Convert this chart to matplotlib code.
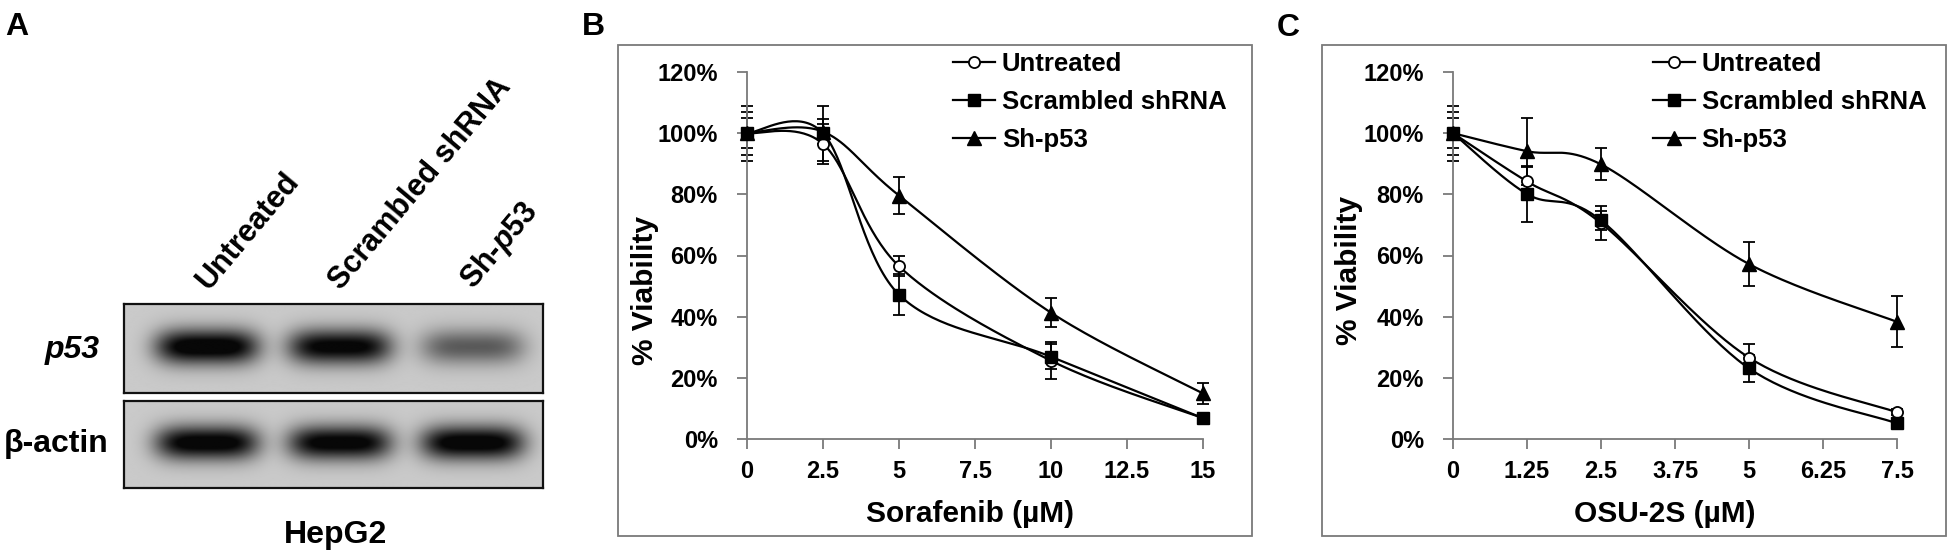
import numpy as np
import matplotlib
matplotlib.use("Agg")
import matplotlib.pyplot as plt
from matplotlib.lines import Line2D
from matplotlib.patches import Rectangle
import matplotlib.transforms as mtransforms

plt.rcParams['font.family'] = ['Liberation Sans', 'DejaVu Sans']
plt.rcParams['font.weight'] = 'bold'
plt.rcParams['mathtext.fontset'] = 'custom'
plt.rcParams['mathtext.it'] = 'Liberation Sans:italic:bold'
plt.rcParams['mathtext.rm'] = 'Liberation Sans:bold'

# --- panel A: western blot ---
lane_labels = ["Untreated", "Scrambled shRNA", r"Sh-$\mathit{p53}$"]
p53_level = [1.0, 0.93, 0.5]
actin_level = [0.97, 0.95, 0.98]

# --- panel B: sorafenib ---
sora_dose = [0, 2.5, 5, 10, 15]
sora_untreated = [100, 96.5, 56.5, 25.6, 6.8]
sora_untreated_err = [9, 6.5, 3.3, 6, 0.8]
sora_scrambled = [100, 100, 47.2, 26.9, 6.8]
sora_scrambled_err = [5, 9, 6.8, 4, 0.8]
sora_shp53 = [100, 100.5, 79.6, 41.3, 14.9]
sora_shp53_err = [7, 4, 6, 4.8, 3.5]
sora_ticks = [0, 2.5, 5, 7.5, 10, 12.5, 15]
sora_ticklabels = ["0", "2.5", "5", "7.5", "10", "12.5", "15"]

# --- panel C: OSU-2S ---
osu_dose = [0, 1.25, 2.5, 5, 7.5]
osu_untreated = [100, 84.2, 70.6, 26.6, 8.7]
osu_untreated_err = [9, 5, 5.5, 4.4, 1]
osu_scrambled = [100, 80.1, 71.5, 23.1, 5.1]
osu_scrambled_err = [5, 9, 3, 4.3, 1]
osu_shp53 = [100, 94.1, 89.8, 57.2, 38.3]
osu_shp53_err = [7, 11, 5.2, 7.2, 8.3]
osu_ticks = [0, 1.25, 2.5, 3.75, 5, 6.25, 7.5]
osu_ticklabels = ["0", "1.25", "2.5", "3.75", "5", "6.25", "7.5"]

y_ticks = [0, 20, 40, 60, 80, 100, 120]
y_ticklabels = ["0%", "20%", "40%", "60%", "80%", "100%", "120%"]
series_names = ["Untreated", "Scrambled shRNA", "Sh-p53"]

W, H = 1950, 557


def px_rect(x0, y0, x1, y1):
    # pixel box (top-left origin) -> figure fraction rect
    return [x0 / W, (H - y1) / H, (x1 - x0) / W, (y1 - y0) / H]


def excel_smooth(x, y, n=40):
    # Excel-style smoothed line: cubic Bezier segments with Catmull-Rom handles
    pts = np.column_stack([x, y]).astype(float)
    ext = np.vstack([pts[0], pts, pts[-1]])
    t = np.linspace(0, 1, n)[:, None]
    out = []
    for i in range(len(pts) - 1):
        p0, p1, p2, p3 = ext[i], ext[i + 1], ext[i + 2], ext[i + 3]
        c1 = p1 + (p2 - p0) / 6
        c2 = p2 - (p3 - p1) / 6
        seg = (1 - t) ** 3 * p1 + 3 * (1 - t) ** 2 * t * c1 + 3 * (1 - t) * t ** 2 * c2 + t ** 3 * p2
        out.append(seg if i == 0 else seg[1:])
    return np.vstack(out)


fig = plt.figure(figsize=(19.5, 5.57), dpi=100)

# panel letters
fig.text(5 / W, (H - 35) / H, "A", fontsize=23, ha='left', va='baseline')
fig.text(582 / W, (H - 35) / H, "B", fontsize=23, ha='left', va='baseline')
fig.text(1277 / W, (H - 36) / H, "C", fontsize=23, ha='left', va='baseline')


def draw_blot(rect, levels, yc):
    ax = fig.add_axes(rect)
    xs = np.linspace(-0.624, 2.526, 420)
    ys = np.linspace(0, 1, 90)
    X, Y = np.meshgrid(xs, ys)
    dens = np.zeros_like(X)
    for lane, lev in enumerate(levels):
        prof = np.exp(-((X - lane) / 0.39) ** 4) * np.exp(-((Y - yc) / 0.2) ** 2)
        dens += lev * prof
    dens = np.clip(dens * 1.15, 0, 1)
    bg = 0.79
    img = bg - (bg - 0.03) * dens
    ax.imshow(img, cmap='gray', vmin=0, vmax=1, origin='lower',
              extent=[-0.624, 2.526, 0, 1], aspect='auto', interpolation='bilinear')
    ax.set_xlim(-0.624, 2.526)
    ax.set_ylim(0, 1)
    ax.set_xticks([])
    ax.set_yticks([])
    for s in ax.spines.values():
        s.set_linewidth(1.6)
        s.set_color('#111111')
    return ax


ax_p53 = draw_blot(px_rect(124, 304, 543, 393), p53_level, 0.52)
ax_act = draw_blot(px_rect(124, 401, 543, 488), actin_level, 0.52)

trans = mtransforms.blended_transform_factory(ax_p53.transData, ax_p53.transAxes)
for i, lab in enumerate(lane_labels):
    ax_p53.text(i + 0.05, 1.09, lab, transform=trans, rotation=50,
                rotation_mode='anchor', ha='left', va='bottom', fontsize=22)

fig.text(100 / W, (H - 350) / H, "p53", fontsize=23, style='italic',
         ha='right', va='center')
fig.text(108 / W, (H - 444) / H, "β-actin", fontsize=23, ha='right', va='center')
fig.text(336 / W, (H - 535) / H, "HepG2", fontsize=23, ha='center', va='center')

# panel frames
for x0, x1 in [(618, 1252), (1322, 1946)]:
    fig.patches.append(Rectangle((x0 / W, (H - 536) / H), (x1 - x0) / W, (536 - 45) / H,
                                 transform=fig.transFigure, fill=False,
                                 edgecolor='#7a7a7a', linewidth=1.3))

markers = [dict(marker='o', markersize=8, markerfacecolor='white', markeredgecolor='black',
                markeredgewidth=1.3),
           dict(marker='s', markersize=9, markerfacecolor='black', markeredgecolor='black'),
           dict(marker='^', markersize=10, markerfacecolor='black', markeredgecolor='black')]


def viability_panel(rect, dose, series, errs, ticks, ticklabels, xmax, xlabel,
                    xlab_x, ylab_x, ylab_y, leg_x):
    ax = fig.add_axes(rect)
    for vals, err, mk in zip(series, errs, markers):
        ax.errorbar(dose, vals, yerr=err, fmt='none', ecolor='black', elinewidth=1.3,
                    capsize=4.5, capthick=1.3, clip_on=False, zorder=2)
        curve = excel_smooth(dose, vals)
        ax.plot(curve[:, 0], curve[:, 1], color='black', lw=1.6, clip_on=False, zorder=2)
    for vals, mk in zip(series, markers):
        ax.plot(dose, vals, linestyle='none', clip_on=False, zorder=3, **mk)
    ax.set_xlim(0, xmax)
    ax.set_ylim(0, 120)
    ax.set_xticks(ticks)
    ax.set_xticklabels(ticklabels, fontsize=17, fontweight='bold')
    ax.set_yticks(y_ticks)
    ax.set_yticklabels(y_ticklabels, fontsize=17, fontweight='bold')
    for side in ['top', 'right']:
        ax.spines[side].set_visible(False)
    for side in ['left', 'bottom']:
        ax.spines[side].set_color('#7a7a7a')
        ax.spines[side].set_linewidth(1.3)
    ax.tick_params(axis='both', direction='out', length=7, width=1.3, color='#7a7a7a')
    ax.tick_params(axis='y', pad=14)
    ax.tick_params(axis='x', pad=8)
    ax.text(xlab_x, -0.204, xlabel, transform=ax.transAxes, fontsize=21.5,
            ha='center', va='center')
    ax.text(ylab_x, ylab_y, "% Viability", transform=ax.transAxes, fontsize=21.5,
            rotation=90, ha='center', va='center')
    handles = [Line2D([], [], color='black', lw=1.6, **mk) for mk in markers]
    ax.legend(handles, series_names, loc='upper left', bbox_to_anchor=(leg_x, 1.055),
              frameon=False, fontsize=18.5, handlelength=1.63, handletextpad=0.27,
              labelspacing=0.55, borderpad=0, borderaxespad=0, numpoints=1)
    return ax


viability_panel(px_rect(747, 72, 1203, 439), sora_dose,
                [sora_untreated, sora_scrambled, sora_shp53],
                [sora_untreated_err, sora_scrambled_err, sora_shp53_err],
                sora_ticks, sora_ticklabels, 15, "Sorafenib (µM)",
                0.49, -0.224, 0.406, 0.452)

viability_panel(px_rect(1453, 72, 1897, 439), osu_dose,
                [osu_untreated, osu_scrambled, osu_shp53],
                [osu_untreated_err, osu_scrambled_err, osu_shp53_err],
                osu_ticks, osu_ticklabels, 7.5, "OSU-2S (µM)",
                0.477, -0.234, 0.46, 0.45)

fig.savefig("out.png", dpi=100)
